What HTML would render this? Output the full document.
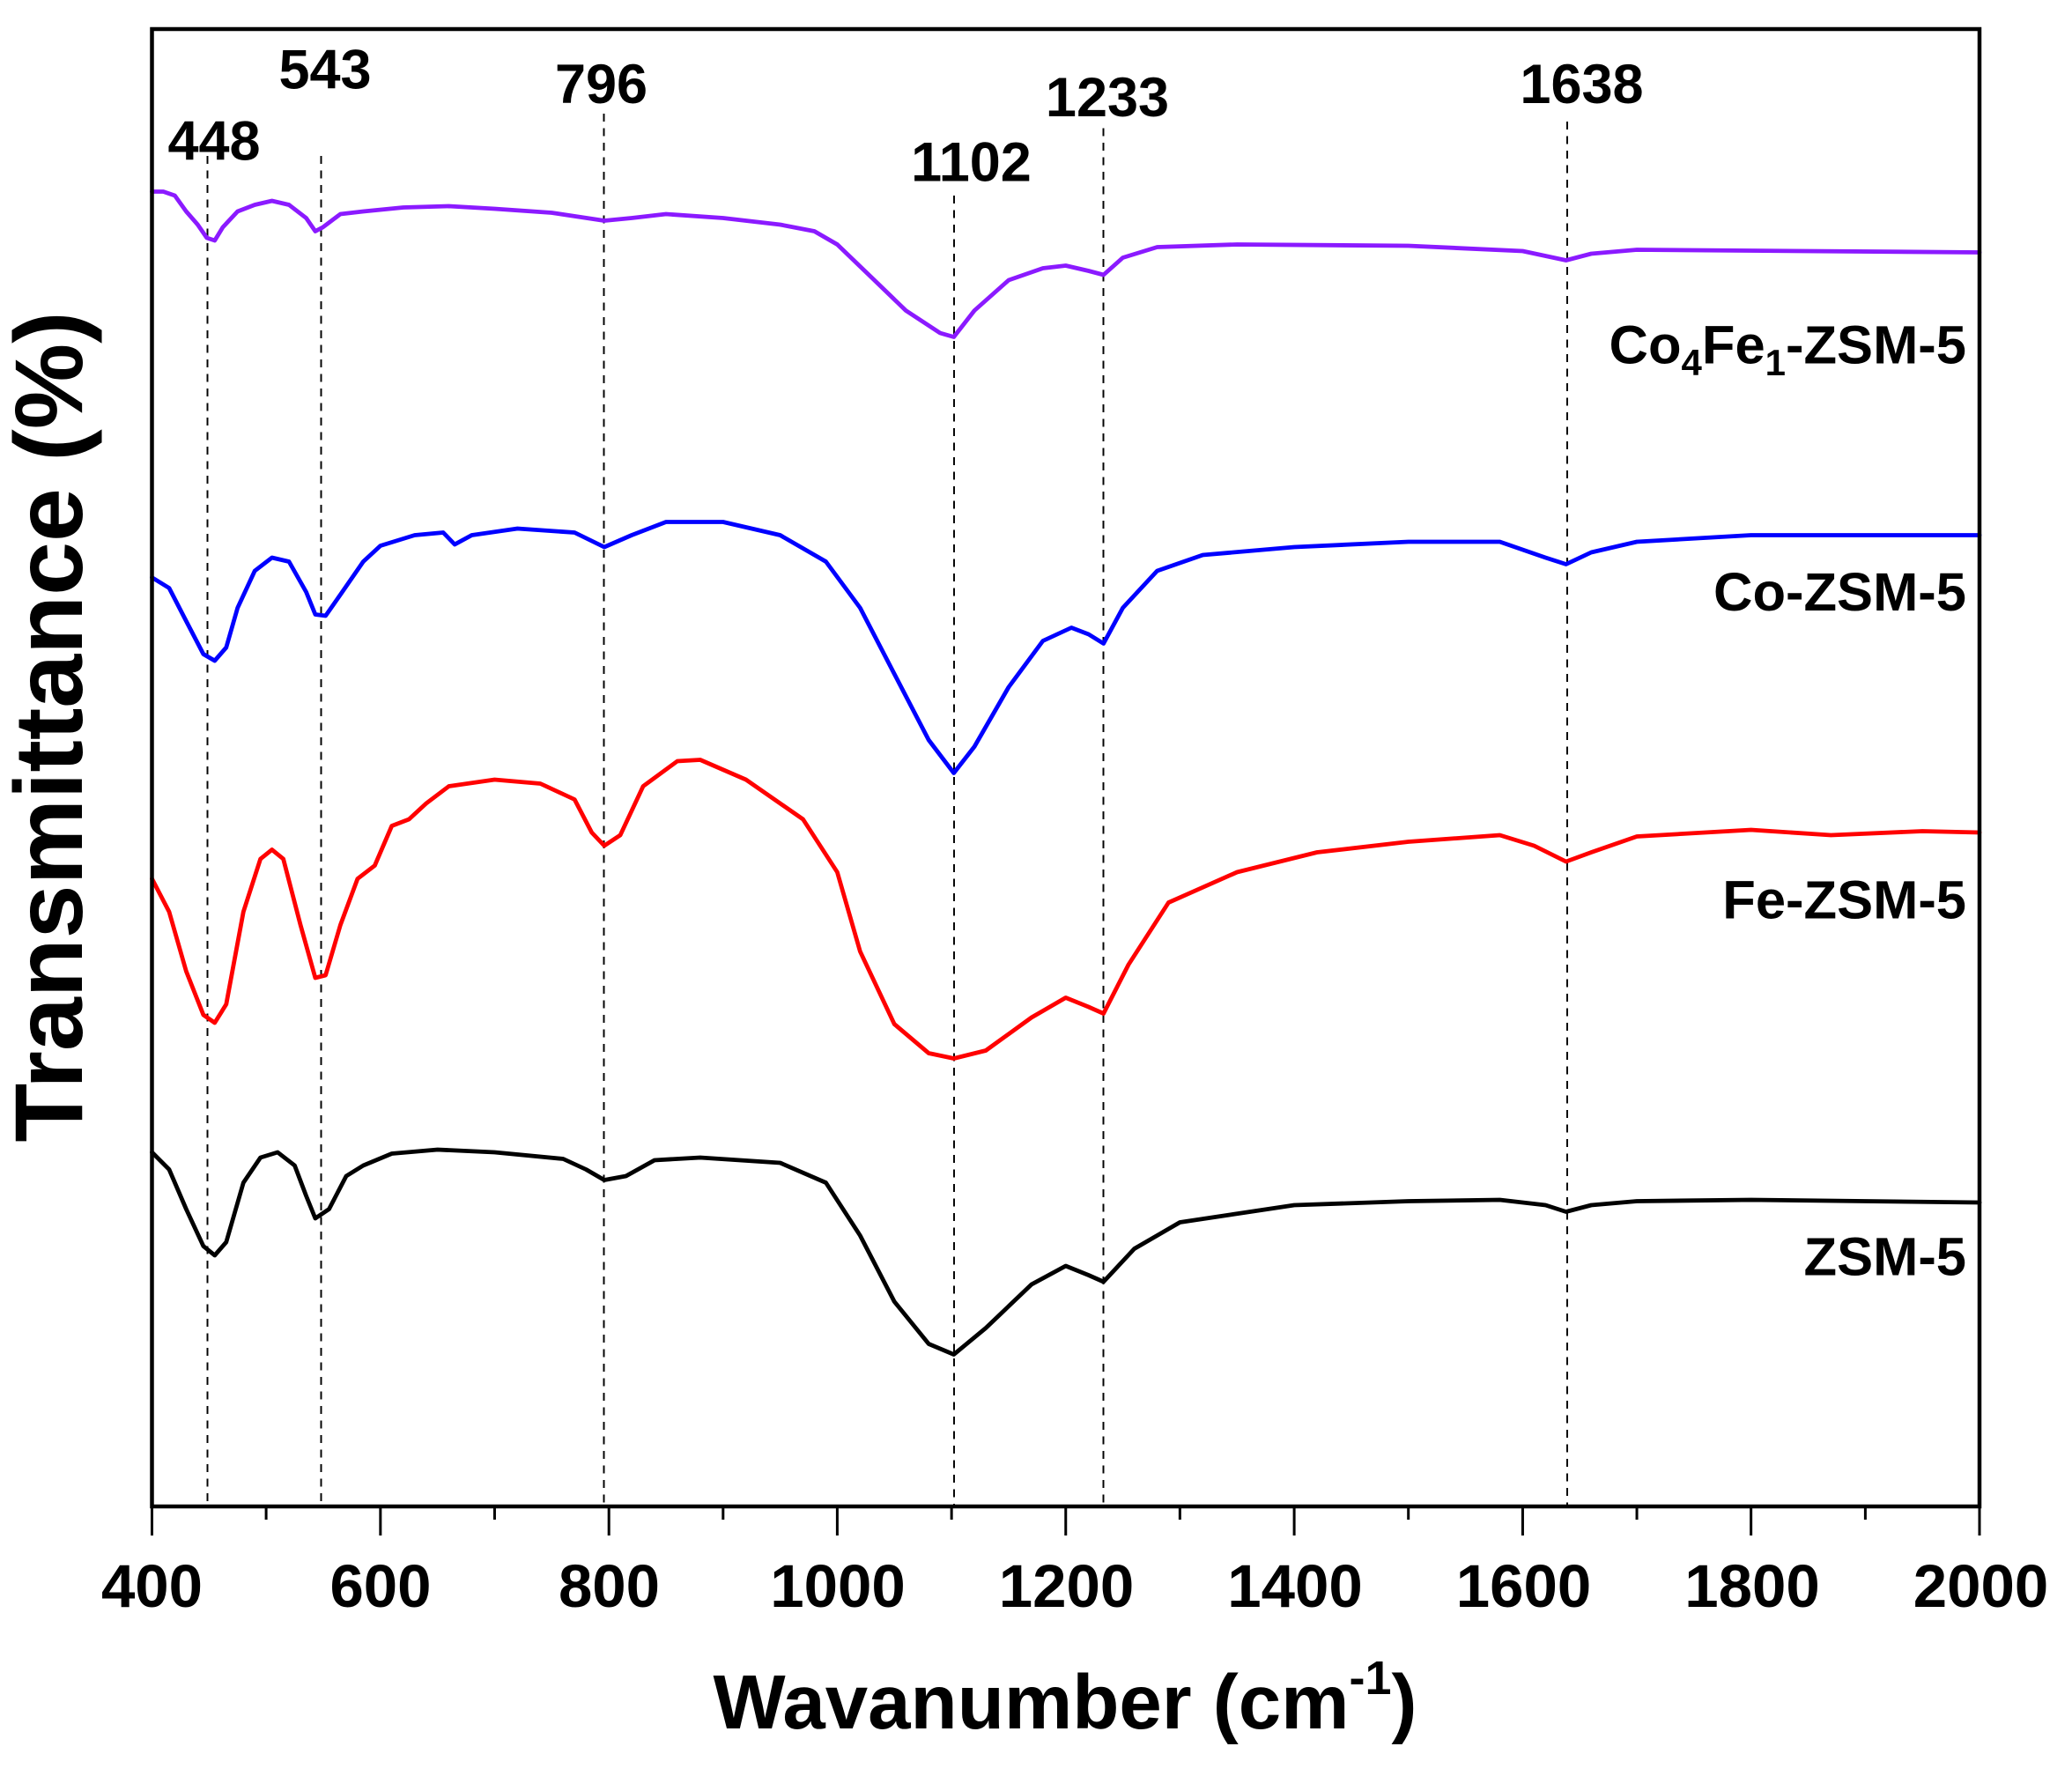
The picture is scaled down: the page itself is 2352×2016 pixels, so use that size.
<!DOCTYPE html>
<html><head><meta charset="utf-8"><style>html,body{margin:0;padding:0;background:#fff}svg{display:block}</style></head>
<body>
<svg xmlns="http://www.w3.org/2000/svg" width="2352" height="2016" viewBox="0 0 1568 1344" font-family="Liberation Sans, Arial, sans-serif" font-weight="bold">
<rect width="1568" height="1344" fill="#fff"/>
<g stroke="#000" stroke-width="1.3" stroke-dasharray="6,5" fill="none">
<line x1="157" y1="118" x2="157" y2="1140"/>
<line x1="243" y1="118" x2="243" y2="1140"/>
<line x1="457" y1="86" x2="457" y2="1140"/>
<line x1="722" y1="148" x2="722" y2="1140"/>
<line x1="835" y1="97" x2="835" y2="1140"/>
<line x1="1186" y1="92" x2="1186" y2="1140"/>
</g>
<g font-size="42" text-anchor="middle" fill="#000">
<text x="162" y="121">448</text>
<text x="246" y="67">543</text>
<text x="455" y="78">796</text>
<text x="735" y="137">1102</text>
<text x="838" y="88">1233</text>
<text x="1197" y="78">1638</text>
</g>
<g fill="none" stroke-width="3.2" stroke-linejoin="round" stroke-linecap="round">
<polyline stroke="#8b1aff" points="115,145 123.6,145 132.3,148 140.9,160 149.6,170 156.5,180 162.5,182 168.6,172 179.8,160 192.8,155 205.8,152 218.7,155 231.7,165 238.6,175 244.3,172 257.6,162 274.9,160 305.2,157 339.7,156 374.3,158 417.5,161 457.3,167 478,165 504,162 547.2,165 590.4,170 616.3,175 633.6,185 659.6,210 685.5,235 711.4,252 721.8,255 737.4,235 763.3,212 789.2,203 806.5,201 823.8,205 835.1,208 849.7,195 875.7,187 936.2,185 1065.8,186 1152.3,190 1185.1,197 1204.2,192 1238.7,189 1498,191"/>
<polyline stroke="#0000ff" points="115,437 128,445 140.9,470 153.9,495 162.5,500 171.2,490 179.8,460 192.8,432 205.8,422 218.7,425 231.7,448 238.6,465 246.4,466 257.6,450 274.9,425 287.9,413 313.8,405 335.4,403 344.1,412 357,405 391.6,400 434.8,403 457.3,414 478,405 504,395 547.2,395 590.4,405 625,425 650.9,460 676.8,510 702.8,560 721.8,585 737.4,565 763.3,520 789.2,485 810.8,475 823.8,480 835.1,487 849.7,460 875.7,432 910.2,420 979.4,414 1065.8,410 1135,410 1169.6,422 1185.1,427 1204.2,418 1238.7,410 1325.1,405 1498,405"/>
<polyline stroke="#ff0000" points="115,665 128,690 140.9,735 153.9,768 162.5,774 171.2,760 184.2,690 197.1,650 205.8,643 214.4,650 227.4,700 238.6,740 246.4,738 257.6,700 270.6,665 283.6,655 296.5,625 309.5,620 322.5,608 339.7,595 374.3,590 408.9,593 434.8,605 447.8,630 457.3,640 469.4,632 486.7,595 512.6,576 529.9,575 564.5,590 607.7,620 633.6,660 650.9,720 676.8,775 702.8,797 721.8,801 746,795 780.6,770 806.5,755 823.8,762 835.1,767 854,730 884.3,683 936.2,660 996.7,645 1065.8,637 1135,632 1160.9,640 1185.1,652 1204.2,645 1238.7,633 1325.1,628 1385.6,632 1454.8,629 1498,630"/>
<polyline stroke="#000000" points="115,872 128,885 140.9,915 153.9,943 162.5,950 171.2,940 184.2,895 197.1,876 210.1,872 223,882 231.7,905 238.6,922 249,915 262,890 274.9,882 296.5,873 331.1,870 374.3,872 426.2,877 443.5,885 457.3,893 473.7,890 495.3,878 529.9,876 590.4,880 625,895 650.9,935 676.8,985 702.8,1017 721.8,1025 746,1005 780.6,972 806.5,958 823.8,965 835.1,970 858.4,945 892.9,925 979.4,912 1065.8,909 1135,908 1169.6,912 1185.1,917 1204.2,912 1238.7,909 1325.1,908 1498,910"/>
</g>
<rect x="115" y="22" width="1383" height="1118" fill="none" stroke="#000" stroke-width="3"/>
<g stroke="#000" stroke-width="2">
<line x1="115" y1="1140" x2="115" y2="1162"/><line x1="201.4" y1="1140" x2="201.4" y2="1150"/>
<line x1="287.9" y1="1140" x2="287.9" y2="1162"/><line x1="374.3" y1="1140" x2="374.3" y2="1150"/>
<line x1="460.8" y1="1140" x2="460.8" y2="1162"/><line x1="547.2" y1="1140" x2="547.2" y2="1150"/>
<line x1="633.6" y1="1140" x2="633.6" y2="1162"/><line x1="720.1" y1="1140" x2="720.1" y2="1150"/>
<line x1="806.5" y1="1140" x2="806.5" y2="1162"/><line x1="892.9" y1="1140" x2="892.9" y2="1150"/>
<line x1="979.4" y1="1140" x2="979.4" y2="1162"/><line x1="1065.8" y1="1140" x2="1065.8" y2="1150"/>
<line x1="1152.3" y1="1140" x2="1152.3" y2="1162"/><line x1="1238.7" y1="1140" x2="1238.7" y2="1150"/>
<line x1="1325.1" y1="1140" x2="1325.1" y2="1162"/><line x1="1411.6" y1="1140" x2="1411.6" y2="1150"/>
<line x1="1498" y1="1140" x2="1498" y2="1162"/>
</g>
<g font-size="46" text-anchor="middle" fill="#000">
<text x="115" y="1216">400</text><text x="288" y="1216">600</text><text x="461" y="1216">800</text><text x="634" y="1216">1000</text><text x="807" y="1216">1200</text><text x="980" y="1216">1400</text><text x="1153" y="1216">1600</text><text x="1326" y="1216">1800</text><text x="1499" y="1216">2000</text>
</g>
<text x="806" y="1308" font-size="58" text-anchor="middle">Wavanumber (cm<tspan font-size="36" dy="-26">-1</tspan><tspan dy="26">)</tspan></text>
<text transform="translate(62,550) rotate(-90)" font-size="73" text-anchor="middle">Transmittance (%)</text>
<g font-size="41" text-anchor="end" fill="#000">
<text x="1488" y="275">Co<tspan font-size="28" dy="9">4</tspan><tspan dy="-9">Fe</tspan><tspan font-size="28" dy="9">1</tspan><tspan dy="-9">-ZSM-5</tspan></text>
<text x="1488" y="462">Co-ZSM-5</text>
<text x="1488" y="695">Fe-ZSM-5</text>
<text x="1488" y="965">ZSM-5</text>
</g>
</svg>
</body></html>
